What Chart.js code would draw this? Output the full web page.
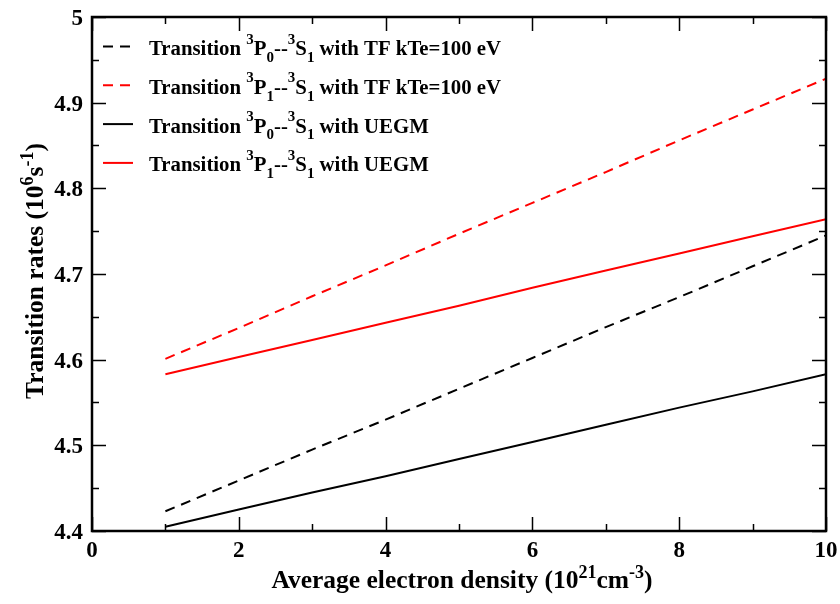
<!DOCTYPE html>
<html>
<head>
<meta charset="utf-8">
<script src="https://cdn.jsdelivr.net/npm/chart.js@4.4.0/dist/chart.umd.min.js"></script>
<style>
  body { margin: 0; background: #fff; }
  #wrap { width: 840px; height: 604px; }
</style>
</head>
<body>
<div id="wrap"><canvas id="canvas" width="840" height="604"></canvas></div>
<script>
// electron density (10^21 cm^-3)
var density = [1, 2, 3, 4, 5, 6, 7, 8, 9, 10];

// transition rates (10^6 s^-1)
var p0TF   = [4.423, 4.459, 4.495, 4.530, 4.566, 4.602, 4.638, 4.673, 4.709, 4.745];
var p1TF   = [4.601, 4.637, 4.674, 4.710, 4.747, 4.783, 4.819, 4.856, 4.892, 4.928];
var p0UEGM = [4.405, 4.425, 4.445, 4.464, 4.484, 4.504, 4.524, 4.544, 4.563, 4.583];
var p1UEGM = [4.583, 4.603, 4.623, 4.643, 4.663, 4.684, 4.704, 4.724, 4.744, 4.764];

var xTicks = [0, 2, 4, 6, 8, 10];
var yTicks = [4.4, 4.5, 4.6, 4.7, 4.8, 4.9, 5];

var FONT = '"Liberation Serif", "Times New Roman", serif';

function toPoints(xs, ys){
    var pts = [];
    for (var i = 0; i < xs.length; i++){
        pts.push({x: xs[i], y: ys[i]});
    }
    return pts;
}

// legend entries: parts are [text, 'n' | 'sup' | 'sub']
var legendItems = [
    {color: '#000', dash: [10, 7], parts: [['Transition ', 'n'], ['3', 'sup'], ['P', 'n'], ['0', 'sub'], ['--', 'n'], ['3', 'sup'], ['S', 'n'], ['1', 'sub'], [' with TF kTe=100 eV', 'n']]},
    {color: '#ff0000', dash: [10, 7], parts: [['Transition ', 'n'], ['3', 'sup'], ['P', 'n'], ['1', 'sub'], ['--', 'n'], ['3', 'sup'], ['S', 'n'], ['1', 'sub'], [' with TF kTe=100 eV', 'n']]},
    {color: '#000', dash: [], parts: [['Transition ', 'n'], ['3', 'sup'], ['P', 'n'], ['0', 'sub'], ['--', 'n'], ['3', 'sup'], ['S', 'n'], ['1', 'sub'], [' with UEGM', 'n']]},
    {color: '#ff0000', dash: [], parts: [['Transition ', 'n'], ['3', 'sup'], ['P', 'n'], ['1', 'sub'], ['--', 'n'], ['3', 'sup'], ['S', 'n'], ['1', 'sub'], [' with UEGM', 'n']]}
];

var xTitle = [['Average electron density (10', 'n'], ['21', 'sup'], ['cm', 'n'], ['-3', 'sup'], [')', 'n']];
var yTitle = [['Transition rates (10', 'n'], ['6', 'sup'], ['s', 'n'], ['-1', 'sup'], [')', 'n']];

function richWidth(ctx, parts, size, small){
    var w = 0;
    for (var p of parts){
        ctx.font = 'bold ' + (p[1] == 'n' ? size : small) + 'px ' + FONT;
        w += ctx.measureText(p[0]).width;
    }
    return w;
}

function drawRich(ctx, x, y, parts, size, small, up){
    ctx.textAlign = 'left';
    ctx.textBaseline = 'alphabetic';
    for (var p of parts){
        var dy = 0;
        if (p[1] == 'sup') dy = -size * up;
        if (p[1] == 'sub') dy = size * 0.33;
        ctx.font = 'bold ' + (p[1] == 'n' ? size : small) + 'px ' + FONT;
        ctx.fillText(p[0], x, y + dy);
        x += ctx.measureText(p[0]).width;
    }
}

var framePlugin = {
    id: 'frame',
    afterDraw: function(chart){
        var ctx = chart.ctx;
        var a = chart.chartArea;
        var xs = chart.scales.x, ys = chart.scales.y;
        ctx.save();
        ctx.strokeStyle = '#000';

        // inward ticks on all four sides
        ctx.lineWidth = 1.5;
        ctx.beginPath();
        for (var v = 0; v <= 10; v++){
            var px = Math.round(xs.getPixelForValue(v)) + 0.5;
            var len = (v % 2 == 0) ? 14 : 7;
            ctx.moveTo(px, a.bottom); ctx.lineTo(px, a.bottom - len);
            ctx.moveTo(px, a.top); ctx.lineTo(px, a.top + len);
        }
        for (var k = 0; k <= 12; k++){
            var val = 4.4 + k * 0.05;
            var py = Math.round(ys.getPixelForValue(val)) + 0.5;
            var len2 = (k % 2 == 0) ? 14 : 7;
            ctx.moveTo(a.left, py); ctx.lineTo(a.left + len2, py);
            ctx.moveTo(a.right, py); ctx.lineTo(a.right - len2, py);
        }
        ctx.stroke();

        // frame
        ctx.lineWidth = 2.5;
        ctx.strokeRect(a.left, a.top, a.right - a.left, a.bottom - a.top);

        // tick labels
        ctx.fillStyle = '#000';
        ctx.font = 'bold 23px ' + FONT;
        ctx.textAlign = 'center';
        ctx.textBaseline = 'alphabetic';
        for (var t of xTicks){
            ctx.fillText(String(t), xs.getPixelForValue(t), 557);
        }
        ctx.textAlign = 'right';
        ctx.textBaseline = 'middle';
        for (var t2 of yTicks){
            ctx.fillText(String(t2), a.left - 9, ys.getPixelForValue(t2) + 2);
        }

        // legend
        for (var i = 0; i < legendItems.length; i++){
            var it = legendItems[i];
            var base = 55 + i * 38.8;
            ctx.strokeStyle = it.color;
            ctx.lineWidth = 2;
            ctx.setLineDash(it.dash);
            ctx.beginPath();
            ctx.moveTo(103, base - 8.5); ctx.lineTo(133, base - 8.5);
            ctx.stroke();
            ctx.setLineDash([]);
            drawRich(ctx, 149, base, it.parts, 20.8, 15, 0.55);
        }

        // x title
        var w = richWidth(ctx, xTitle, 25.5, 18);
        drawRich(ctx, (a.left + a.right) / 2 - w / 2 + 3, 588, xTitle, 25.5, 18, 0.4);

        // y title
        ctx.translate(43, (a.top + a.bottom) / 2 - 3);
        ctx.rotate(-Math.PI / 2);
        var wy = richWidth(ctx, yTitle, 25.5, 18);
        drawRich(ctx, -wy / 2, 0, yTitle, 25.5, 18, 0.4);
        ctx.restore();
    }
};

var datasets = [
    {data: toPoints(density, p0TF), borderColor: '#000', borderDash: [10, 7]},
    {data: toPoints(density, p1TF), borderColor: '#ff0000', borderDash: [10, 7]},
    {data: toPoints(density, p0UEGM), borderColor: '#000', borderDash: []},
    {data: toPoints(density, p1UEGM), borderColor: '#ff0000', borderDash: []}
];
for (var d of datasets){
    d.borderWidth = 2;
    d.pointRadius = 0;
    d.tension = 0;
    d.fill = false;
}

var ctx = document.getElementById('canvas').getContext('2d');
var chart = new Chart(ctx, {
    type: 'line',
    data: { datasets: datasets },
    options: {
        responsive: false,
        animation: false,
        layout: { padding: { top: 17, right: 14, left: 0, bottom: 0 } },
        plugins: { legend: { display: false }, tooltip: { enabled: false } },
        scales: {
            x: {
                type: 'linear',
                min: 0, max: 10,
                afterFit: function(s){ s.height = 73; },
                grid: { display: false, drawTicks: false },
                border: { display: false },
                ticks: { display: false }
            },
            y: {
                type: 'linear',
                min: 4.4, max: 5,
                afterFit: function(s){ s.width = 92; },
                grid: { display: false, drawTicks: false },
                border: { display: false },
                ticks: { display: false }
            }
        }
    },
    plugins: [framePlugin]
});
</script>
</body>
</html>
